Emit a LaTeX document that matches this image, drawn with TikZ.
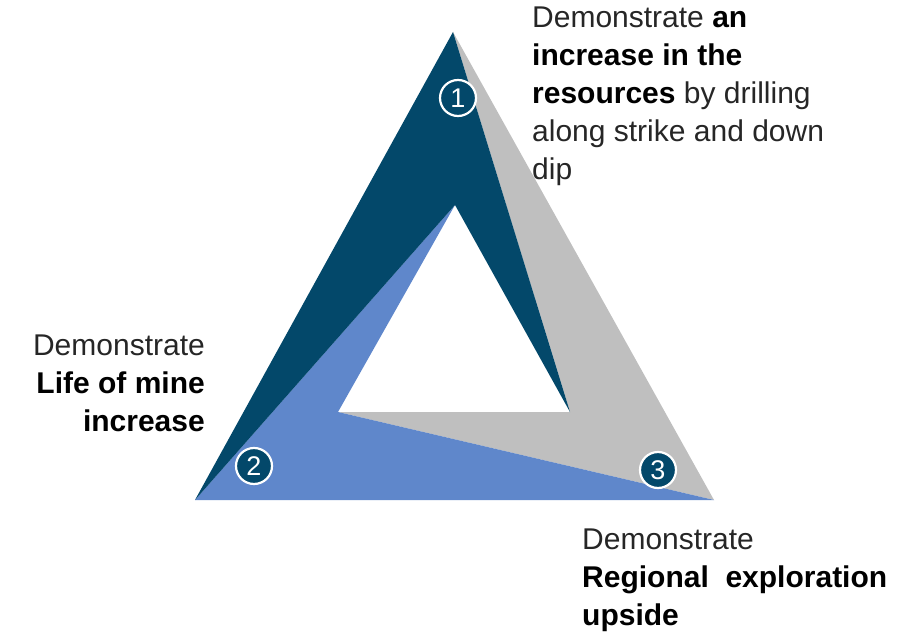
\documentclass[tikz,border=0pt]{standalone}
\usepackage{fontspec}
\setmainfont{Liberation Sans}
\usepackage{xcolor}
\usepackage{tikz}
\usetikzlibrary{positioning, calc}
\definecolor{minedark}{HTML}{03486A}
\definecolor{mineblue}{HTML}{5F87CB}
\definecolor{minegray}{HTML}{BFBFBF}

\begin{document}
\begin{tikzpicture}[
    x=1pt, y=-1pt,
    every node/.style={font=\fontsize{30}{38}\selectfont},
    numcircle/.style={
        circle,
        draw=white,
        fill=minedark,
        line width=2.2pt,
        minimum size=36pt,
        inner sep=0pt,
        text=white,
        font=\fontsize{27}{27}\selectfont
    },
    label text/.style={
        inner sep=0pt,
        text=black!85
    }
]
\useasboundingbox (0,0) rectangle (914,634);

% Outer and inner corners
\coordinate (otop) at (453,32);
\coordinate (oleft) at (195,500);
\coordinate (oright) at (714,500);
\coordinate (itop) at (455,205);
\coordinate (ileft) at (338,412);
\coordinate (iright) at (570,412);

% Three bands
\fill[minegray] (otop) -- (oright) -- (ileft) -- (iright) -- cycle;
\fill[mineblue] (oleft) -- (itop) -- (ileft) -- (oright) -- cycle;
\fill[minedark] (otop) -- (oleft) -- (itop) -- (iright) -- cycle;

% Numbers
\node[numcircle] (one) at (458,98) {1};
\node[numcircle] (two) at (254,466) {2};
\node[numcircle] (three) at (658,470) {3};

% Labels
\node[label text, anchor=north west, align=left] (resources) at (532,7)
    {Demonstrate \textbf{\color{black}an}\\\textbf{\color{black}increase in the}\\\textbf{\color{black}resources} by drilling\\along strike and down\\dip};
\node[label text, anchor=north east, align=right] (lifeofmine) at (205,335)
    {Demonstrate\\\textbf{\color{black}Life of mine}\\\textbf{\color{black}increase}};
\node[label text, anchor=north west, align=left] (regional) at (582,529)
    {Demonstrate\\\textbf{\color{black}Regional\ \ exploration}\\\textbf{\color{black}upside}};

\end{tikzpicture}
\end{document}
